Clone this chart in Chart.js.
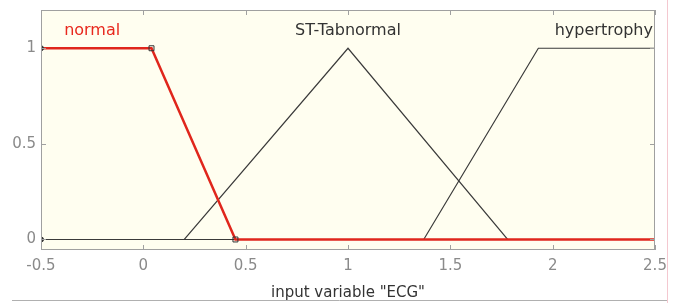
<!DOCTYPE html>
<html>
<head>
<meta charset="utf-8">
<script src="https://cdn.jsdelivr.net/npm/chart.js@4.4.0/dist/chart.umd.min.js"></script>
<style>
html,body{margin:0;padding:0;background:#fff;}
#wrap{width:677px;height:303px;position:relative;}
</style>
</head>
<body>
<div id="wrap"><canvas id="c" width="677" height="303"></canvas></div>
<script>
// Membership functions of input variable "ECG"
const mfNames = ["normal", "ST-Tabnormal", "hypertrophy"];
const normalX = [-0.5, 0.04, 0.45, 2.5];
const normalY = [1, 1, 0, 0];
const stX = [-0.5, 0.2, 1, 1.78, 2.5];
const stY = [0, 0, 1, 0, 0];
const hyperX = [-0.5, 1.37, 1.93, 2.5];
const hyperY = [0, 0, 1, 1];
const labelX = [-0.25, 1, 2.25];
const labelY = [1.09, 1.09, 1.09];
const xTicks = [-0.5, 0, 0.5, 1, 1.5, 2, 2.5];
const yTicks = [0, 0.5, 1];
const xTitle = 'input variable "ECG"';

function pts(xs, ys){ return xs.map((x,i)=>({x:x,y:ys[i]})); }

const FONT = '"DejaVu Sans", Verdana, sans-serif';

const deco = {
  id:'deco',
  beforeDraw(chart){
    const {ctx, chartArea:a} = chart;
    ctx.save();
    ctx.fillStyle = '#fffef0';
    ctx.fillRect(a.left, a.top, a.right-a.left, a.bottom-a.top);
    ctx.restore();
  },
  afterDatasetsDraw(chart){
    const {ctx, chartArea:a, scales} = chart;
    ctx.save();
    ctx.strokeStyle = '#a0a0a0';
    ctx.lineWidth = 1;
    ctx.strokeRect(a.left+0.5, a.top+0.5, a.right-a.left-1, a.bottom-a.top-1);
    ctx.beginPath();
    xTicks.forEach(v=>{
      const px = Math.round(scales.x.getPixelForValue(v))+0.5;
      ctx.moveTo(px, a.bottom); ctx.lineTo(px, a.bottom-5);
      ctx.moveTo(px, a.top); ctx.lineTo(px, a.top+5);
    });
    yTicks.forEach(v=>{
      const py = Math.round(scales.y.getPixelForValue(v))+0.5;
      ctx.moveTo(a.left, py); ctx.lineTo(a.left+5, py);
      ctx.moveTo(a.right, py); ctx.lineTo(a.right-5, py);
    });
    ctx.stroke();
    ctx.font = '16px ' + FONT;
    ctx.textBaseline = 'middle';
    ctx.textAlign = 'center';
    mfNames.forEach((n,i)=>{
      ctx.fillStyle = i===0 ? '#e8281e' : '#333';
      ctx.fillText(n, scales.x.getPixelForValue(labelX[i]), scales.y.getPixelForValue(labelY[i]));
    });
    ctx.strokeStyle = '#f4c8d0';
    ctx.beginPath(); ctx.moveTo(667.5, 0); ctx.lineTo(667.5, 303); ctx.stroke();
    ctx.strokeStyle = '#b0b0b0';
    ctx.beginPath(); ctx.moveTo(12, 300.5); ctx.lineTo(667, 300.5); ctx.stroke();
    ctx.restore();
  }
};

new Chart(document.getElementById('c'), {
  type:'scatter',
  data:{
    datasets:[
      {label:mfNames[2], data:pts(hyperX,hyperY), showLine:true, borderColor:'#3a3a3a', borderWidth:1.2, pointRadius:0, order:3},
      {label:mfNames[1], data:pts(stX,stY), showLine:true, borderColor:'#3a3a3a', borderWidth:1.2, pointRadius:0, order:2},
      {label:mfNames[0], data:pts(normalX,normalY), showLine:true, borderColor:'#e0261c', borderWidth:2.5,
        pointStyle:['circle','rect','rect','circle'], pointRadius:[2.5,3.5,3.5,0],
        pointBackgroundColor:['#333','rgba(0,0,0,0)','rgba(0,0,0,0)','#333'], pointBorderColor:'#333', pointBorderWidth:1, order:1},
      {label:'start', data:pts([-0.5],[0]), showLine:false, pointRadius:2.5, pointBackgroundColor:'#333', pointBorderColor:'#333', order:0}
    ]
  },
  options:{
    responsive:false, animation:false,
    layout:{padding:{left:0,right:22,top:10,bottom:0}},
    plugins:{legend:{display:false}, tooltip:{enabled:false}},
    scales:{
      x:{type:'linear', min:-0.5, max:2.5,
        afterBuildTicks(s){ s.ticks = xTicks.map(v=>({value:v})); },
        afterFit(s){ s.height = 53; s.paddingLeft = 0; s.paddingRight = 0; },
        grid:{display:false, drawTicks:false},
        border:{display:false},
        ticks:{padding:7, color:'#8a8a8a', font:{family:FONT,size:15}, maxRotation:0, autoSkip:false, callback:v=>String(v)},
        title:{display:true, text:xTitle, color:'#333', font:{family:FONT,size:15}, padding:{top:2,bottom:1}}
      },
      y:{type:'linear', min:-0.055, max:1.2,
        afterBuildTicks(s){ s.ticks = yTicks.map(v=>({value:v})); },
        afterFit(s){ s.width = 41; s.paddingTop = 0; s.paddingBottom = 0; },
        grid:{display:false, drawTicks:false},
        border:{display:false},
        ticks:{padding:5, color:'#8a8a8a', font:{family:FONT,size:15}, callback:v=>String(v)}
      }
    }
  },
  plugins:[deco]
});
</script>
</body>
</html>
